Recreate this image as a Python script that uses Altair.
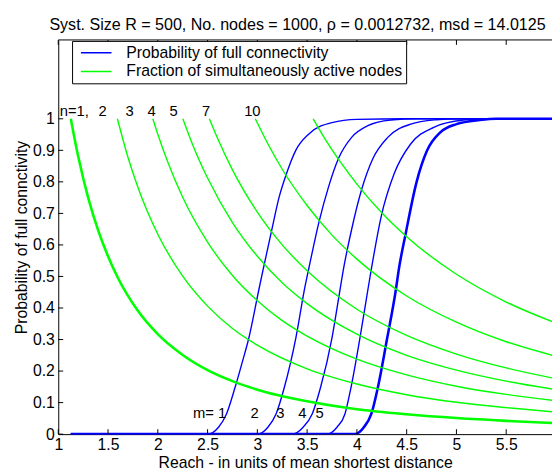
import altair as alt
import pandas as pd

TITLE = "Syst. Size R = 500, No. nodes = 1000, \u03c1 = 0.0012732, msd = 14.0125"
X_TITLE = "Reach - in units of mean shortest distance"
Y_TITLE = "Probability of full connctivity"
SERIES = ["Probability of full connectivity", "Fraction of simultaneously active nodes"]

x_ticks = [1, 1.5, 2, 2.5, 3, 3.5, 4, 4.5, 5, 5.5]
y_ticks = [0, 0.1, 0.2, 0.3, 0.4, 0.5, 0.6, 0.7, 0.8, 0.9, 1.0]

# ---- blue curves: probability of full connectivity (m = 1..5) ----
b1_x = [1.126, 2.5, 2.61, 2.69, 2.775, 2.85, 2.914, 3.017, 3.06, 3.139, 3.22, 3.287, 3.386, 3.518, 3.75, 4.0, 4.5, 6.0]
b1_y = [0, 0, 0.022, 0.064, 0.147, 0.23, 0.304, 0.461, 0.525, 0.639, 0.753, 0.821, 0.9, 0.952, 0.988, 0.998, 1.0, 1.0]
b2_x = [1.126, 3.0, 3.106, 3.188, 3.27, 3.386, 3.48, 3.52, 3.617, 3.716, 3.815, 3.947, 4.11, 4.34, 4.6, 6.0]
b2_y = [0, 0, 0.022, 0.064, 0.147, 0.304, 0.47, 0.53, 0.67, 0.785, 0.874, 0.941, 0.978, 0.996, 1.0, 1.0]
b3_x = [1.126, 3.35, 3.46, 3.551, 3.634, 3.749, 3.832, 3.865, 3.947, 4.046, 4.161, 4.31, 4.54, 4.8, 5.0, 6.0]
b3_y = [0, 0, 0.022, 0.064, 0.147, 0.304, 0.461, 0.523, 0.649, 0.774, 0.874, 0.941, 0.983, 0.997, 1.0, 1.0]
b4_x = [1.126, 3.7, 3.8, 3.88, 3.94, 4.03, 4.112, 4.145, 4.244, 4.376, 4.54, 4.772, 5.07, 5.3, 6.0]
b4_y = [0, 0, 0.022, 0.064, 0.147, 0.304, 0.461, 0.523, 0.69, 0.827, 0.92, 0.973, 0.996, 1.0, 1.0]
b5_x = [1.126, 3.98, 4.07, 4.145, 4.21, 4.304, 4.393, 4.42, 4.492, 4.6, 4.706, 4.838, 5.0, 5.235, 5.4, 6.0]
b5_y = [0, 0, 0.022, 0.064, 0.147, 0.304, 0.461, 0.52, 0.639, 0.8, 0.9, 0.957, 0.983, 0.996, 1.0, 1.0]

# ---- green curves: fraction of simultaneously active nodes ----
g1_x = [1.126, 1.2, 1.3, 1.4, 1.5, 1.6, 1.8, 2.0, 2.25, 2.5, 2.75, 3.0, 3.5, 4.0, 4.5, 5.0, 5.5, 6.0]
g1_y = [1.0, 0.881, 0.750, 0.647, 0.564, 0.495, 0.391, 0.317, 0.251, 0.203, 0.168, 0.141, 0.104, 0.079, 0.063, 0.051, 0.042, 0.035]
g2_x = [1.594, 1.7, 1.8, 2.0, 2.25, 2.5, 2.75, 3.0, 3.5, 4.0, 4.5, 5.0, 5.5, 6.0]
g2_y = [1.0, 0.878, 0.783, 0.634, 0.501, 0.406, 0.335, 0.282, 0.207, 0.159, 0.125, 0.101, 0.084, 0.070]
g3_x = [1.95, 2.0, 2.1, 2.25, 2.5, 2.75, 3.0, 3.25, 3.5, 4.0, 4.5, 5.0, 5.5, 6.0]
g3_y = [1.0, 0.951, 0.863, 0.751, 0.609, 0.503, 0.423, 0.360, 0.311, 0.238, 0.188, 0.152, 0.126, 0.106]
g4_x = [2.252, 2.35, 2.5, 2.75, 3.0, 3.25, 3.5, 4.0, 4.5, 5.0, 5.5, 6.0]
g4_y = [1.0, 0.918, 0.812, 0.671, 0.564, 0.480, 0.414, 0.317, 0.250, 0.203, 0.168, 0.141]
g5_x = [2.518, 2.6, 2.75, 3.0, 3.25, 3.5, 4.0, 4.5, 5.0, 5.5, 6.0]
g5_y = [1.0, 0.938, 0.838, 0.704, 0.600, 0.518, 0.396, 0.313, 0.254, 0.210, 0.176]
g7_x = [2.979, 3.1, 3.25, 3.5, 3.75, 4.0, 4.5, 5.0, 5.5, 6.0]
g7_y = [1.0, 0.924, 0.840, 0.725, 0.631, 0.555, 0.438, 0.355, 0.293, 0.247]
g10_x = [3.561, 3.7, 3.85, 4.0, 4.25, 4.5, 5.0, 5.5, 6.0]
g10_y = [1.0, 0.926, 0.856, 0.793, 0.702, 0.626, 0.507, 0.419, 0.352]

# ---- annotations ----
n_text = ["n=1,", "2", "3", "4", "5", "7", "10"]
n_x = [1.161, 1.446, 1.716, 1.938, 2.158, 2.485, 2.95]
n_y = [1.025, 1.025, 1.025, 1.025, 1.025, 1.025, 1.025]
m_text = ["m= 1", "2", "3", "4", "5"]
m_x = [2.52, 2.973, 3.23, 3.452, 3.626]
m_y = [0.066, 0.066, 0.066, 0.066, 0.066]

# ---- build long table ----
curves = [
    ("b1", SERIES[0], b1_x, b1_y),
    ("b2", SERIES[0], b2_x, b2_y),
    ("b3", SERIES[0], b3_x, b3_y),
    ("b4", SERIES[0], b4_x, b4_y),
    ("b5", SERIES[0], b5_x, b5_y),
    ("g1", SERIES[1], g1_x, g1_y),
    ("g2", SERIES[1], g2_x, g2_y),
    ("g3", SERIES[1], g3_x, g3_y),
    ("g4", SERIES[1], g4_x, g4_y),
    ("g5", SERIES[1], g5_x, g5_y),
    ("g7", SERIES[1], g7_x, g7_y),
    ("g10", SERIES[1], g10_x, g10_y),
]
thick = {"b5": 2.6, "g1": 2.6}
rows = []
for cid, kind, xs, ys in curves:
    for i, (xv, yv) in enumerate(zip(xs, ys)):
        rows.append({"curve": cid, "kind": kind, "x": xv, "y": yv, "i": i, "w": thick.get(cid, 1.4)})
line_df = pd.DataFrame(rows)

W, H = 501, 400
FONT = "Liberation Sans"

xscale = alt.Scale(domain=[1, 5.96], nice=False, zero=False)
yscale = alt.Scale(domain=[0, 1.25], nice=False, zero=False)
xaxis = alt.Axis(values=x_ticks, format="~g", title=X_TITLE, labelFlush=False,
                 labelPadding=3, titlePadding=2)
yaxis = alt.Axis(values=y_ticks, format="~g", title=Y_TITLE, labelFlush=False,
                 labelPadding=4, titlePadding=3)


def X(field="x"):
    return alt.X(f"{field}:Q", scale=xscale, axis=xaxis)


def Y(field="y"):
    return alt.Y(f"{field}:Q", scale=yscale, axis=yaxis)


legend = alt.Legend(
    title=None, orient="none", legendX=14, legendY=1, direction="vertical",
    padding=3, fillColor="white", strokeColor="black",
    symbolType="stroke", symbolSize=961, symbolStrokeWidth=1.5, symbolOffset=5,
    labelOffset=14, labelFontSize=16, labelFont=FONT, labelColor="black",
    labelLimit=400, clipHeight=18, rowPadding=1,
    labelExpr="datum.label + '  '",
)

lines = alt.Chart(line_df).mark_line(clip=True, interpolate="monotone").encode(
    x=X(), y=Y(),
    color=alt.Color("kind:N", scale=alt.Scale(domain=SERIES, range=["#0000ff", "#00ff00"]), legend=legend),
    detail="curve:N",
    strokeWidth=alt.StrokeWidth("w:Q", scale=None),
    order="i:Q",
)

n_df = pd.DataFrame({"x": n_x, "y": n_y, "label": n_text})
m_df = pd.DataFrame({"x": m_x, "y": m_y, "label": m_text})
n_layer = alt.Chart(n_df).mark_text(fontSize=15, font=FONT, color="black", align="center", baseline="middle").encode(
    x=X(), y=Y(), text="label:N")
m_layer = alt.Chart(m_df).mark_text(fontSize=15, font=FONT, color="black", align="center", baseline="middle").encode(
    x=X(), y=Y(), text="label:N")

xt_df = pd.DataFrame({"x": x_ticks})
yt_df = pd.DataFrame({"y": y_ticks})
bottom_ticks = alt.Chart(xt_df).mark_rule(color="black", strokeWidth=1).encode(
    x=X(), y=alt.value(H), y2=alt.value(H - 5))
top_ticks = alt.Chart(xt_df).mark_rule(color="black", strokeWidth=1).encode(
    x=X(), y=alt.value(0), y2=alt.value(5))
left_ticks = alt.Chart(yt_df).mark_rule(color="black", strokeWidth=1).encode(
    y=Y(), x=alt.value(0), x2=alt.value(5))
top_border = alt.Chart(pd.DataFrame({"x": [1]})).mark_rule(color="black", strokeWidth=1).encode(
    x=alt.value(0), x2=alt.value(W), y=alt.value(0))

TOP = 29
chart = alt.layer(lines, n_layer, m_layer, bottom_ticks, top_ticks, left_ticks, top_border).properties(
    width=W, height=H,
    title=alt.TitleParams(text=TITLE, anchor="start", frame="group", dx=-9, fontSize=16.3,
                          fontWeight="normal", font=FONT, color="black", offset=6),
    autosize=alt.AutoSizeParams(type="none"),
    padding={"left": 51, "top": TOP, "right": 0, "bottom": 35},
).configure(font=FONT).configure_view(stroke="transparent").configure_axis(
    labelFont=FONT, titleFont=FONT, labelFontSize=16, titleFontSize=16,
    labelColor="black", titleColor="black", titleFontWeight="normal",
    domainColor="black", domainWidth=1, grid=False, ticks=False,
)

chart.save("out.html", embed_options={"renderer": "svg", "actions": False})
